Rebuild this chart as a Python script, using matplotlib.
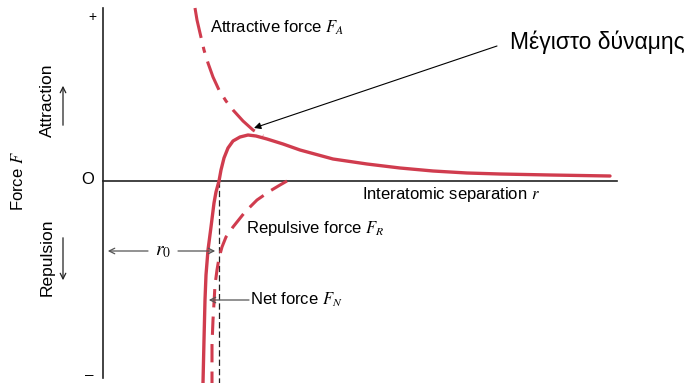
import numpy as np
import matplotlib.pyplot as plt

plt.rcParams['font.family'] = ['Liberation Sans', 'DejaVu Sans']
plt.rcParams['mathtext.fontset'] = 'stix'

# interatomic separation r and force F (arbitrary units)
r_net = [1.00, 1.01, 1.02, 1.03, 1.05, 1.08, 1.11, 1.13, 1.16, 1.18, 1.21, 1.25,
         1.30, 1.37, 1.45, 1.53, 1.64, 1.80, 1.97, 2.30, 2.64, 2.97, 3.30, 3.64,
         3.97, 4.47, 5.07]
F_net = [-2.02, -1.59, -1.19, -0.94, -0.69, -0.46, -0.22, -0.11, 0.00, 0.11, 0.23, 0.33,
         0.40, 0.44, 0.46, 0.45, 0.42, 0.37, 0.31, 0.22, 0.17, 0.13, 0.10, 0.08,
         0.07, 0.06, 0.05]

r_att = [0.92, 0.94, 0.97, 1.01, 1.05, 1.10, 1.16, 1.23, 1.30, 1.40, 1.50, 1.60]
F_att = [1.73, 1.61, 1.48, 1.31, 1.18, 1.04, 0.91, 0.80, 0.71, 0.60, 0.51, 0.45]

r_rep = [1.84, 1.77, 1.67, 1.54, 1.42, 1.30, 1.23, 1.19, 1.16, 1.14, 1.12, 1.11,
         1.10, 1.09, 1.09]
F_rep = [0.00, -0.04, -0.10, -0.19, -0.31, -0.46, -0.56, -0.66, -0.77, -0.89, -1.04, -1.22,
         -1.39, -1.64, -2.02]

r0 = 1.16
F_peak = (1.45, 0.46)

red = '#d03c4e'
grey = '#555555'

fig = plt.figure(figsize=(6.91, 3.83), dpi=100)
ax = fig.add_axes([0, 0, 1, 1])
ax.set_xlim(-1.03, 5.88)
ax.set_ylim(-2.02, 1.81)
ax.axis('off')

# axes
ax.plot([0, 0], [1.73, -1.97], color='#222222', lw=1.2)
ax.plot([0, 5.14], [0, 0], color='#222222', lw=1.2)
ax.plot([r0, r0], [0, -2.02], color='#222222', lw=0.9, dashes=(5, 2.5))

# curves
ax.plot(r_att, F_att, color=red, lw=2.2, dashes=(10, 3, 2, 3))
ax.plot(r_rep, F_rep, color=red, lw=2.2, dashes=(6, 3))
ax.plot(r_net, F_net, color=red, lw=2.4, solid_capstyle='round')

# axis marks
ax.text(-0.11, 1.64, '+', fontsize=10, ha='center', va='center')
ax.text(-0.14, -1.94, '–', fontsize=11, ha='center', va='center')
ax.text(-0.15, 0.01, 'O', fontsize=12, ha='center', va='center')

ax.text(-0.85, 0.0, 'Force $F$', fontsize=12, rotation=90, ha='center', va='center')
ax.text(-0.56, 0.81, 'Attraction', fontsize=12.5, rotation=90, ha='center', va='center')
ax.text(-0.56, -0.76, 'Repulsion', fontsize=12.5, rotation=90, ha='center', va='center')
ax.annotate('', xy=(-0.40, 0.98), xytext=(-0.40, 0.53),
            arrowprops=dict(arrowstyle='->', color='#222222', lw=0.9))
ax.annotate('', xy=(-0.40, -1.02), xytext=(-0.40, -0.54),
            arrowprops=dict(arrowstyle='->', color='#222222', lw=0.9))

# curve labels
ax.text(1.07, 1.53, 'Attractive force $F_A$', fontsize=12, ha='left', va='center')
ax.text(2.59, -0.14, 'Interatomic separation $r$', fontsize=12, ha='left', va='center')
ax.text(1.43, -0.47, 'Repulsive force $F_R$', fontsize=12, ha='left', va='center')
ax.text(1.47, -1.19, 'Net force $F_N$', fontsize=12, ha='left', va='center')

# r0 marker
ax.text(0.60, -0.70, '$r_0$', fontsize=14, ha='center', va='center')
ax.annotate('', xy=(0.02, -0.70), xytext=(0.45, -0.70),
            arrowprops=dict(arrowstyle='->', color=grey, lw=0.9, shrinkA=0))
ax.annotate('', xy=(r0 - 0.01, -0.70), xytext=(0.75, -0.70),
            arrowprops=dict(arrowstyle='->', color=grey, lw=0.9, shrinkA=0))
ax.annotate('', xy=(1.03, -1.19), xytext=(1.46, -1.19),
            arrowprops=dict(arrowstyle='->', color=grey, lw=0.9, shrinkA=0))

# maximum force
ax.text(4.07, 1.39, 'Μέγιστο δύναμης', fontsize=16.5, ha='left', va='center')
ax.annotate('', xy=(F_peak[0] + 0.06, F_peak[1] + 0.07), xytext=(3.94, 1.35),
            arrowprops=dict(arrowstyle='-|>', color='black', lw=0.8,
                            mutation_scale=10, shrinkA=0, shrinkB=0))

fig.savefig('out.png', dpi=100)
